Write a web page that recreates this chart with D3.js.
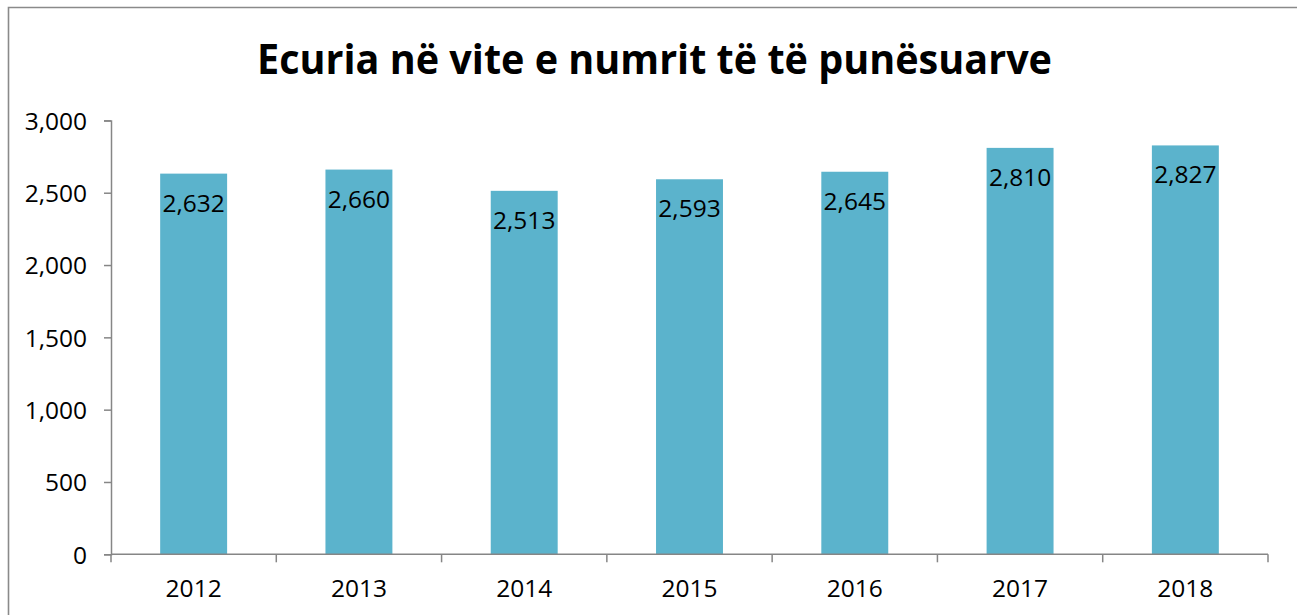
<!DOCTYPE html>
<html>
<head>
<meta charset="utf-8">
<script src="https://cdn.jsdelivr.net/npm/d3@7/dist/d3.min.js"></script>
<style>
	html, body { margin: 0; padding: 0; background: #fff; overflow: hidden; }
	svg { display: block; overflow: hidden; }
	.axis path, .axis line { stroke: #868686; stroke-width: 1.5; }
	.axis text { font-family: 'Open Sans', sans-serif; font-size: 24.5px; fill: #000; }
</style>
</head>
<body>
<svg id="chart"></svg>
<script>
// chart data
const title = 'Ecuria në vite e numrit të të punësuarve';
const years = ['2012', '2013', '2014', '2015', '2016', '2017', '2018'];
const employed = [2632, 2660, 2513, 2593, 2645, 2810, 2827];
const yTicks = [0, 500, 1000, 1500, 2000, 2500, 3000];

const W = 1297;
const H = 615;
const margin = { top: 120.4, right: 29, bottom: 60.7, left: 111 };
const width = W - margin.left - margin.right;
const height = H - margin.top - margin.bottom;

const svg = d3.select('#chart')
	.attr('width', W)
	.attr('height', H);

// chart frame (runs off the right and bottom edge)
svg.append('path')
	.attr('d', `M8.5,${ H + 5 }V7.5H${ W + 5 }`)
	.attr('fill', 'none')
	.attr('stroke', '#8a8a8a')
	.attr('stroke-width', 1.6);

// title
svg.append('text')
	.attr('x', 257)
	.attr('y', 74)
	.attr('textLength', 795)
	.attr('lengthAdjust', 'spacingAndGlyphs')
	.style('font-family', "'Open Sans', sans-serif")
	.style('font-weight', 700)
	.style('font-size', '42px')
	.text(title);

const g = svg.append('g')
	.attr('transform', `translate(${ margin.left }, ${ margin.top })`);

const x = d3.scaleBand()
	.domain(years)
	.range([0, width])
	.paddingInner(0.595)
	.paddingOuter(0.2975);

const y = d3.scaleLinear()
	.domain([0, 3000])
	.range([height, 0]);

// bars
g.selectAll('.bar')
	.data(employed)
	.join('rect')
		.attr('class', 'bar')
		.attr('x', (d, i) => x(years[i]))
		.attr('y', (d) => y(d))
		.attr('width', x.bandwidth())
		.attr('height', (d) => height - y(d))
		.attr('fill', '#5bb3cc');

// value labels, inside end
g.selectAll('.label')
	.data(employed)
	.join('text')
		.attr('class', 'label')
		.attr('x', (d, i) => x(years[i]) + x.bandwidth() / 2)
		.attr('y', (d) => y(d) + 38)
		.attr('text-anchor', 'middle')
		.style('font-family', "'Open Sans', sans-serif")
		.style('font-size', '24.5px')
		.text((d) => d3.format(',')(d));

// y axis
const yAxis = g.append('g')
	.attr('class', 'axis')
	.call(d3.axisLeft(y).tickValues(yTicks).tickFormat(d3.format(',')).tickSizeOuter(0).tickSize(7).tickPadding(17));
yAxis.selectAll('text').attr('dy', '0.36em');

// x axis with ticks between categories
const xAxis = g.append('g')
	.attr('class', 'axis')
	.attr('transform', `translate(0, ${ height })`);
xAxis.append('line')
	.attr('x1', 0)
	.attr('x2', width);
xAxis.selectAll('.sep')
	.data(d3.range(years.length + 1))
	.join('line')
		.attr('class', 'sep')
		.attr('x1', (i) => i * width / years.length)
		.attr('x2', (i) => i * width / years.length)
		.attr('y1', 0)
		.attr('y2', 8);
xAxis.selectAll('.year')
	.data(years)
	.join('text')
		.attr('class', 'year')
		.attr('x', (d) => x(d) + x.bandwidth() / 2)
		.attr('y', 43)
		.attr('text-anchor', 'middle')
		.text((d) => d);
</script>
</body>
</html>
